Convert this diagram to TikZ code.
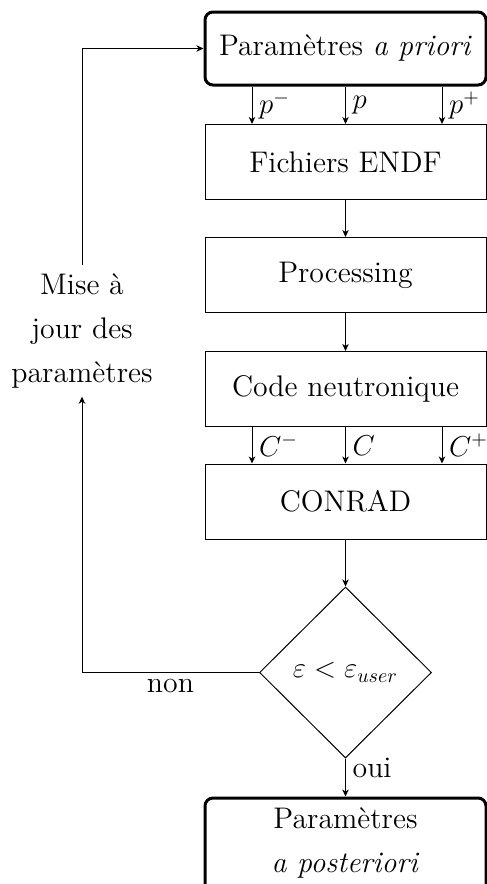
\documentclass[tikz,border=0pt]{standalone}
\usepackage{fontspec}
\usetikzlibrary{shapes.geometric,arrows.meta}
\begin{document}
\begin{tikzpicture}[x=0.5pt,y=-0.5pt,
  lab/.style={font=\fontsize{14.9}{22}\selectfont},
  box/.style={draw,lab,line width=0.5pt,minimum width=140.5pt,minimum height=37.5pt,inner sep=0pt},
  rbox/.style={box,rounded corners=4pt,line width=1.5pt},
  arr/.style={-{Stealth[length=3.5pt,width=3.2pt,inset=1pt]},line width=0.5pt}]
\useasboundingbox (0,0) rectangle (487,884);
\node[rbox,minimum height=36.5pt] (top) at (345.5,48.5) {Paramètres \textit{a priori}};
\node[box] (fich) at (345.5,162) {Fichiers ENDF};
\node[box] (proc) at (345.5,275) {Processing};
\node[box] (code) at (345.5,389) {Code neutronique};
\node[box] (conr) at (345.5,501.5) {CONRAD};
\node[diamond,draw,lab,aspect=1,line width=0.5pt,minimum width=86pt,minimum height=85.5pt,inner sep=0pt] (dia) at (345.5,672.5) {$\varepsilon < \varepsilon_{user}$};
\node[rbox,minimum height=52pt,align=center,text depth=10pt] (post) at (345.5,850) {Paramètres\\\textit{a posteriori}};
\node[lab,align=center,inner xsep=3pt,inner ysep=4pt] (upd) at (82,331) {Mise à\\jour des\\paramètres};
\coordinate (xa) at (252,0);
\coordinate (xc) at (442,0);
\draw[arr] (top.south -| xa) -- node[right,lab]{$p^-$} (fich.north -| xa);
\draw[arr] (top) -- node[right,lab]{$p$} (fich);
\draw[arr] (top.south -| xc) -- node[right,lab]{$p^+$} (fich.north -| xc);
\draw[arr] (fich) -- (proc);
\draw[arr] (proc) -- (code);
\draw[arr] (code.south -| xa) -- node[right,lab]{$C^-$} (conr.north -| xa);
\draw[arr] (code) -- node[right,lab]{$C$} (conr);
\draw[arr] (code.south -| xc) -- node[right,lab]{$C^+$} (conr.north -| xc);
\draw[arr] (conr) -- (dia);
\draw[arr] (dia) -- node[pos=0.25,right,lab]{oui} (post);
\draw[arr] (dia.west) -- node[below,lab]{non} (dia.west -| upd.south) -- (upd.south);
\draw[arr] (upd.north) -- (upd.north |- top.west) -- (top.west);
\end{tikzpicture}
\end{document}
